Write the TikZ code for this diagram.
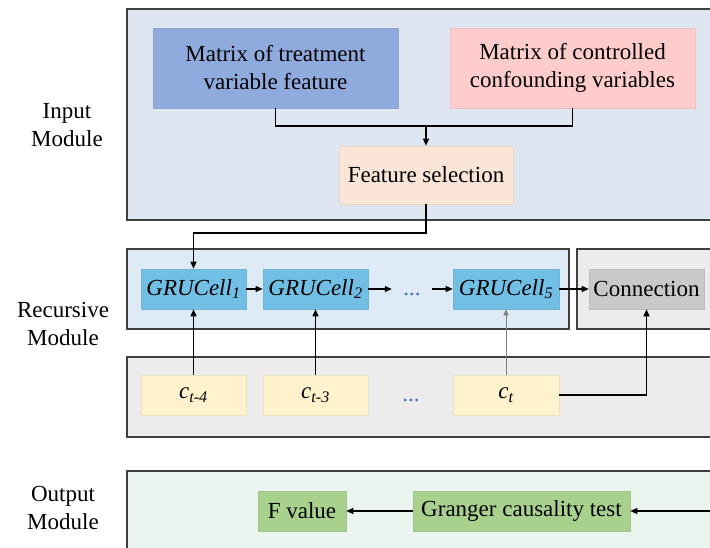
\documentclass[tikz,border=0pt]{standalone}
\usepackage{fontspec}
\setmainfont{Liberation Serif}
\usetikzlibrary{arrows.meta,positioning}
\definecolor{edge}{RGB}{64,64,64}
\definecolor{inbg}{RGB}{222,230,242}
\definecolor{recbg}{RGB}{222,235,247}
\definecolor{greybg}{RGB}{236,236,236}
\definecolor{outbg}{RGB}{235,245,240}
\definecolor{treat}{RGB}{143,170,220}
\definecolor{conf}{RGB}{255,204,204}
\definecolor{select}{RGB}{251,229,214}
\definecolor{cell}{RGB}{113,191,228}
\definecolor{conn}{RGB}{201,201,201}
\definecolor{ctx}{RGB}{255,242,204}
\definecolor{res}{RGB}{169,209,142}
\definecolor{dots}{RGB}{68,114,196}
\newcommand{\figfont}{\fontsize{23}{28}\selectfont}

\begin{document}
\begin{tikzpicture}[x=1pt, y=-1pt,
    mod/.style={rectangle, draw=edge, line width=1.5pt, fill=#1, inner sep=0pt},
    b/.style={rectangle, fill=#1, draw=#1!85!gray, line width=0.6pt,
              inner sep=0pt, font=\figfont, align=center},
    b/.default=cell,
    lbl/.style={align=center, font=\figfont},
    arr/.style={-{Triangle[length=7pt,width=6pt]}, line width=1.2pt}
]
\clip (0,0) rectangle (710,547);

% modules
\node[mod=inbg, minimum width=600pt, minimum height=211pt] (inmod) at (427,114.5) {};
\node[mod=recbg, minimum width=442pt, minimum height=80pt] (recl) at (348,289) {};
\node[mod=greybg, minimum width=150pt, minimum height=80pt] (recr) at (652,289) {};
\node[mod=greybg, minimum width=600pt, minimum height=80pt] (cmod) at (427,397) {};
\node[mod=outbg, minimum width=600pt, minimum height=89pt] (outmod) at (427,515.5) {};

\node[lbl] (inlbl) at (67,125) {Input\\Module};
\node[lbl] (reclbl) at (63,324) {Recursive\\Module};
\node[lbl] (outlbl) at (63,508) {Output\\Module};

% input
\node[b=treat, minimum width=245pt, minimum height=80pt] (mt) at (275.5,68)
  {Matrix of treatment\\variable feature};
\node[b=conf, minimum width=245pt, minimum height=80pt] (mc) at (572.5,68)
  {Matrix of controlled\\confounding variables};
\node[b=select, minimum width=174pt, minimum height=58pt] (fs) at (426,175) {Feature selection};
\coordinate (join) at (426,126);
\coordinate (turn) at (426,233);

% recursive
\node[b, minimum width=105pt, minimum height=40pt] (g1) at (193.5,289) {\textit{GRUCell\textsubscript{1}}};
\node[b, minimum width=105pt, minimum height=40pt] (g2) at (315.5,289) {\textit{GRUCell\textsubscript{2}}};
\node[lbl, text=dots, minimum width=40pt, inner sep=0pt] (d1) at (412,294) {...};
\node[b, minimum width=106pt, minimum height=40pt] (g5) at (506,289) {\textit{GRUCell\textsubscript{5}}};
\node[b=conn, minimum width=115pt, minimum height=40pt] (cn) at (646.5,289) {Connection};

\node[b=ctx, minimum width=105pt, minimum height=40pt] (c1) at (193.5,395) {\textit{c\textsubscript{t-4}}};
\node[b=ctx, minimum width=105pt, minimum height=40pt] (c2) at (315.5,395) {\textit{c\textsubscript{t-3}}};
\node[lbl, text=dots] (d2) at (411,400) {...};
\node[b=ctx, minimum width=106pt, minimum height=40pt] (c5) at (506,395) {\textit{c\textsubscript{t}}};

% output
\node[b=res, minimum width=88pt, minimum height=40pt] (fv) at (302,511) {F value};
\node[b=res, minimum width=217pt, minimum height=40pt] (gc) at (521.5,511) {Granger causality test};
\coordinate (gin) at (720,511);

% connectors
\draw[line width=1.2pt] (mt.south) |- (join) -| (mc.south);
\draw[arr] (join) -- (fs.north);
\draw[arr] (fs.south) -- (turn) -| (g1.north);
\draw[arr] (g1) -- (g2);
\draw[arr] (g2) -- (g2 -| d1.west);
\draw[arr] (g5 -| d1.east) -- (g5);
\draw[arr] (g5) -- (cn);
\draw[arr] (c1) -- (g1);
\draw[arr] (c2) -- (g2);
\draw[-{Triangle[length=6pt,width=5pt]}, line width=0.6pt, gray] (c5) -- (g5);
\draw[arr] (c5.east) -| (cn.south);
\draw[arr] (gin) -- (gc);
\draw[arr] (gc) -- (fv);
\end{tikzpicture}
\end{document}
